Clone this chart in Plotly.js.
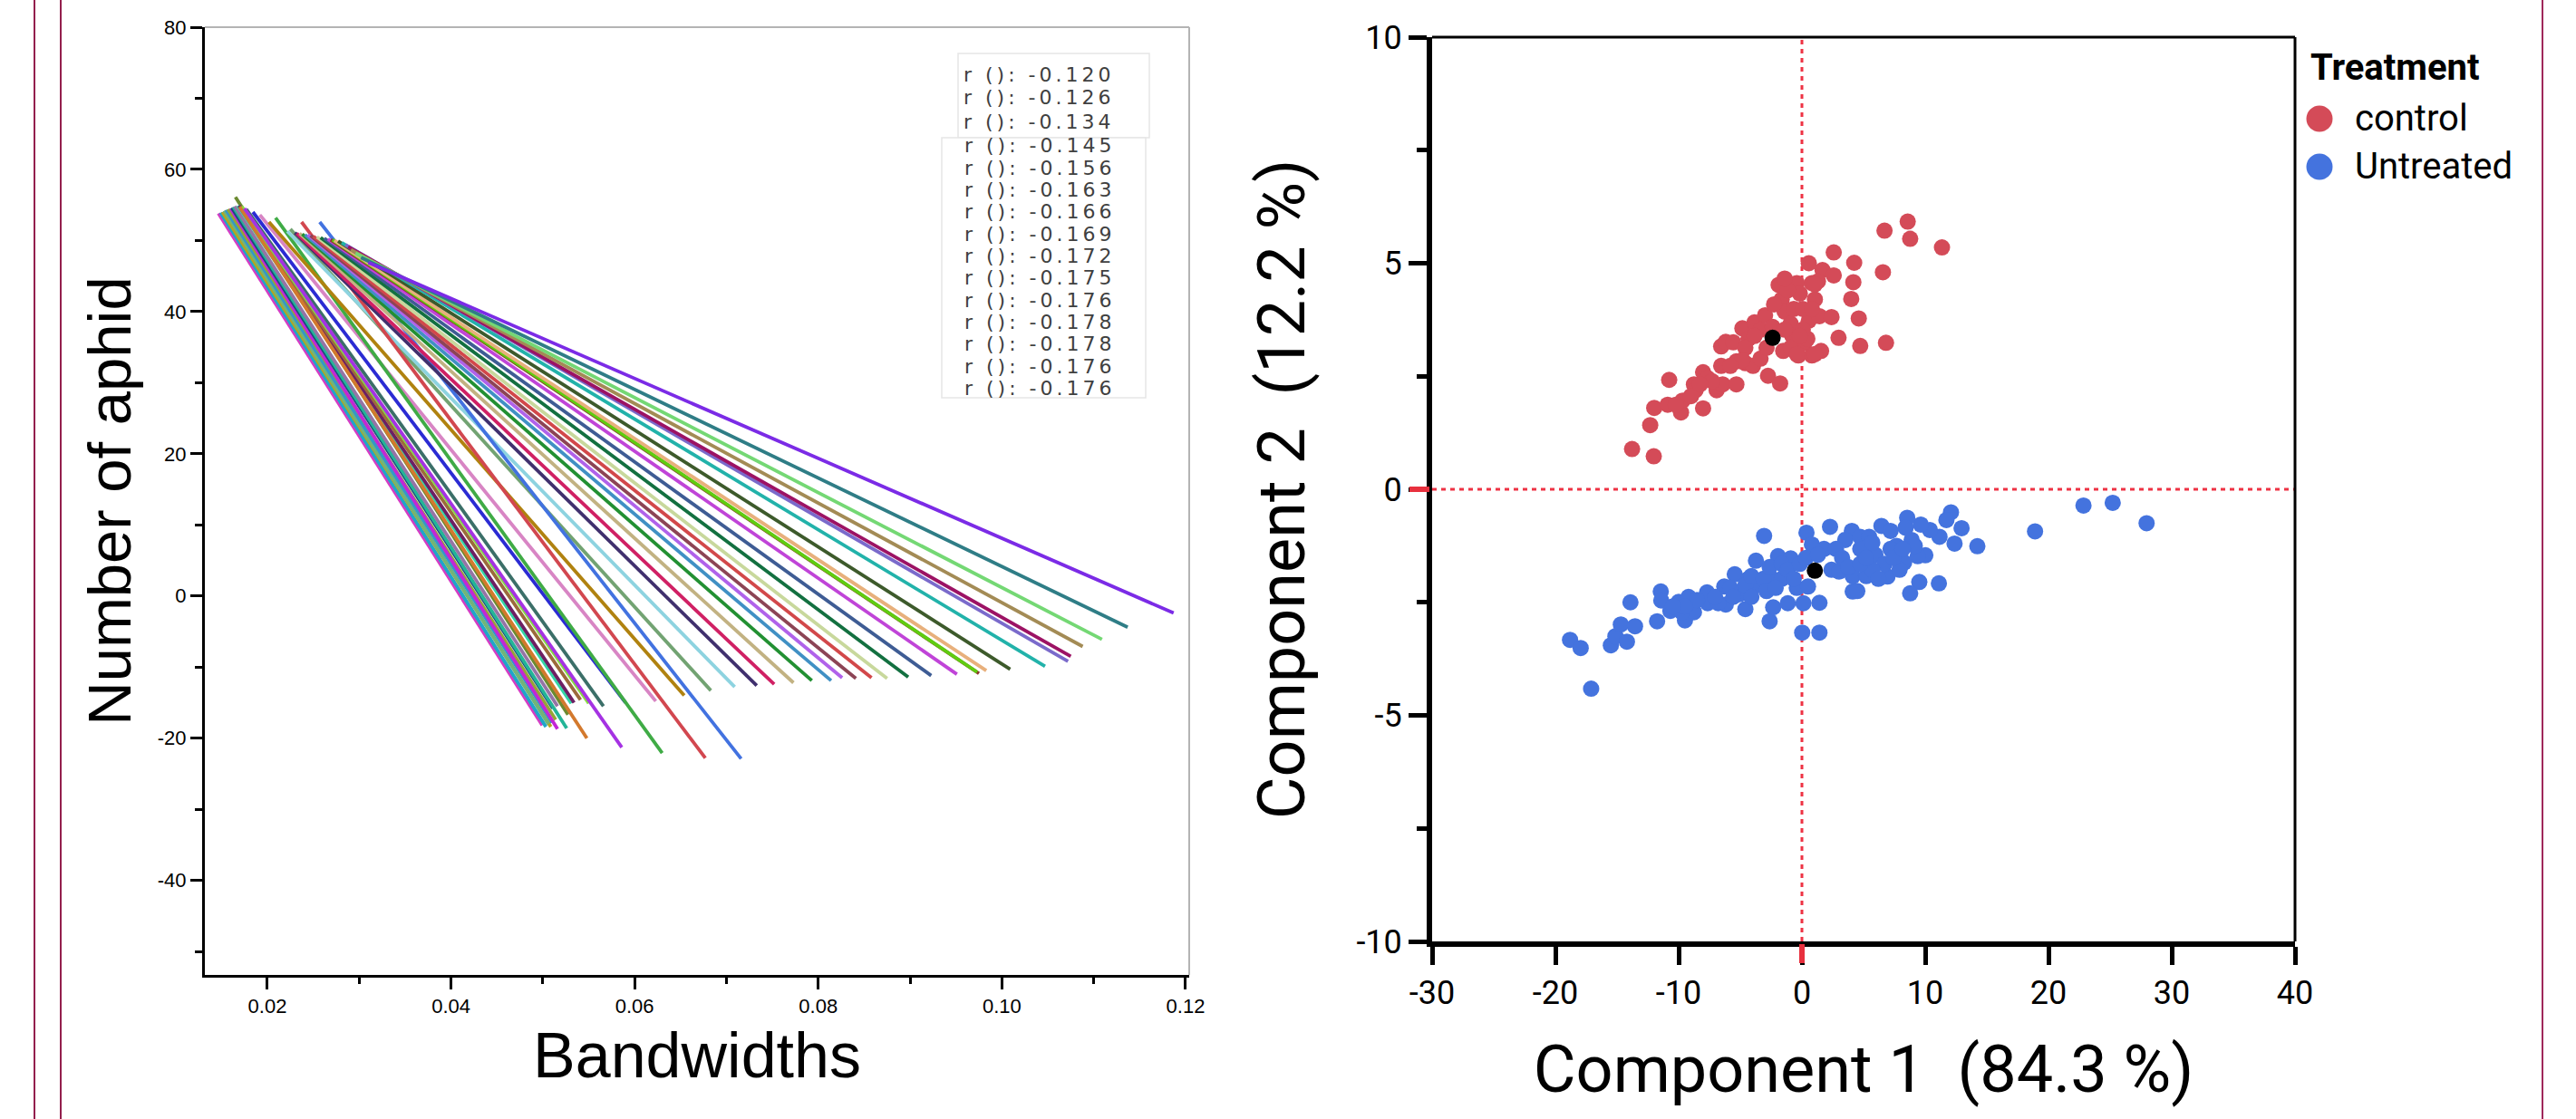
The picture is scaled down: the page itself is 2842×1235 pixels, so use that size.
<!DOCTYPE html>
<html>
<head>
<meta charset="utf-8">
<script src="https://cdn.plot.ly/plotly-3.0.1.min.js"></script>
<style>
html,body{margin:0;padding:0;background:#fff;}
#chart{width:2842px;height:1235px;}
text.annotation-text[style*="DejaVu"]{letter-spacing:4px;}
</style>
</head>
<body>
<div id="chart"></div>
<script>
// ---------- Left panel: fitted lines (start / end points) ----------
const lineStartX = [
  0.01467,0.01490,0.01510,0.01530,0.01550,0.01572,0.01600,0.01612,0.01630,0.01645,
  0.01652,0.01678,0.01690,0.01700,0.01720,0.01700,0.01770,0.01750,0.01842,0.01918,
  0.02089,0.02017,0.02250,0.02217,0.02372,0.02570,
  0.0230,0.0232,0.0235,0.0238,0.0241,0.0244,0.0247,0.0250,0.0254,0.0258,
  0.0262,0.0266,0.0269,0.0271,0.0273,0.0277,0.0281,0.0285,0.0288,0.0291,
  0.0296,0.0302,0.0310
];
const lineStartY = [
  53.8,53.9,54.0,54.2,54.3,54.4,54.5,54.6,54.7,54.8,
  56.1,54.9,54.9,54.8,54.8,54.7,54.4,54.5,54.0,53.6,
  53.2,52.6,51.6,51.3,52.6,52.6,
  51.1,51.0,51.0,50.9,50.8,50.8,50.7,50.6,50.5,50.4,
  50.3,50.2,50.1,50.1,50.0,49.9,49.7,49.4,49.1,48.7,
  48.2,47.6,46.9
];
const lineEndX = [
  0.04994,0.05034,0.05087,0.0506,0.0510,0.0514,0.0516,0.0511,0.0526,0.0516,
  0.05274,0.0531,0.0534,0.0541,0.0550,0.0548,0.0566,0.0586,0.0590,0.0623,
  0.0630,0.0654,0.0683,0.0709,0.0677,0.0716,
  0.0733,0.0752,0.0773,0.0793,0.0814,0.0826,0.0841,0.0858,0.0875,0.0898,
  0.0923,0.0951,0.0975,0.0973,0.0983,0.1009,0.1047,0.1072,0.1075,0.1088,
  0.1109,0.1137,0.1187
];
const lineEndY = [
  -18.2,-18.4,-18.4,-18.0,-17.8,-17.4,-18.7,-15.8,-18.6,-15.5,
  -16.7,-15.1,-15.0,-14.6,-15.1,-20.0,-15.5,-21.3,-15.0,-14.8,
  -22.1,-14.0,-13.3,-12.8,-22.8,-22.9,
  -12.6,-12.4,-12.2,-11.9,-11.9,-11.5,-11.6,-11.5,-11.6,-11.4,
  -11.2,-11.0,-10.9,-10.7,-10.5,-10.3,-9.9,-9.2,-8.5,-7.1,
  -6.1,-4.4,-2.4
];
const lineColors = [
  '#d43cc4','#1fa6c9','#b5a51e','#6fb57a','#3398c8','#96a536','#c326d6','#1f4a7c','#23b597','#9574a6',
  '#6b8a30','#35d6a6','#6e1f63','#9c6a3c','#86dc42','#d3792d','#3b6f68','#a532e3','#2b2bd3','#d885c4',
  '#3fab45','#b0820f','#72a372','#8dd3e0','#d2474f','#4272e0',
  '#40306e','#d02064','#c2b282','#229032','#4090c4','#b062ea','#8c4455','#d2484a','#c8d89c','#137040',
  '#3e5c94','#c044d8','#8b3a2a','#5fcc10','#e8b07c','#3d5a2b','#22b2aa','#7a6acb','#9c1264','#a38b55',
  '#74d874','#2f7d86','#7b2be6'
];
const rValuesA = ['-0.120','-0.126','-0.134'];
const rValuesB = ['-0.145','-0.156','-0.163','-0.166','-0.169','-0.172','-0.175','-0.176','-0.178','-0.178','-0.176','-0.176'];

const leftXTicks = [0.02,0.04,0.06,0.08,0.10,0.12];
const leftXTickText = ['0.02','0.04','0.06','0.08','0.10','0.12'];
const leftYTicks = [-40,-20,0,20,40,60,80];
const leftYTickText = ['-40','-20','0','20','40','60','80'];

// ---------- Right panel: PCA scores ----------
const controlX = [
  -13.78,-12.02,-12.31,-11.98,-10.77,-10.89,-9.81,-9.69,-10.23,-8.02,
  -8.76,-8.63,-8.02,-7.65,-6.92,-6.55,-6.43,-5.32,-6.55,-6.18,
  -5.57,-5.32,-4.83,-4.59,-3.97,-3.36,-4.34,-3.85,-2.99,-2.75,
  -1.77,-1.89,-1.64,-1.40,-0.91,-1.52,-0.42,-0.17,-0.78,-0.29,
  0.20,0.56,0.81,1.05,0.56,0.44,0.81,1.55,1.67,1.30,
  2.58,2.58,1.42,2.40,2.97,4.24,4.17,4.00,4.61,4.73,
  6.70,8.58,8.78,6.57,6.82,11.36,-3.36,-2.38,-1.40,-0.66,
  0.07,0.07,-1.15,-2.26,-3.85,-4.59,-2.87,-0.91,-0.17,1.05,
  0.81,-1.40,-4.83,-5.81,-7.28,-9.00,-8.27,1.05,-0.42
];
const controlY = [
  0.89,0.73,1.42,1.80,2.42,1.87,1.70,1.96,1.87,1.79,
  2.32,2.19,2.59,2.46,2.19,2.73,2.32,2.32,3.16,3.26,
  3.25,2.83,3.56,2.79,2.73,2.89,3.33,3.69,3.85,2.51,
  2.34,4.52,4.20,3.93,3.66,3.06,4.56,4.33,3.39,2.96,
  3.23,5.00,4.56,4.20,3.73,3.33,2.96,3.06,4.85,4.60,
  4.73,5.24,3.83,3.81,3.35,5.01,4.58,4.21,3.78,3.17,
  5.72,5.92,5.54,4.80,3.24,5.35,3.53,3.59,3.53,3.99,
  3.99,3.53,4.40,4.09,3.39,3.13,3.13,3.13,3.39,4.53,
  3.99,4.66,2.86,2.73,2.39,2.06,2.32,2.99,2.99
];
const untreatedX = [
  -18.81,-17.95,-17.10,-15.50,-15.13,-14.20,-14.69,-13.54,-13.91,-11.75,
  -11.45,-11.41,-10.67,-10.00,-9.49,-9.20,-8.76,-9.74,-7.70,-7.65,
  -6.30,-6.18,-6.79,-5.45,-5.08,-4.59,-4.34,-3.73,-3.07,-3.61,
  -2.62,-2.33,-1.94,-2.62,-1.15,-0.91,-1.64,-0.42,0.02,1.42,
  0.12,1.42,0.37,0.81,0.49,2.28,4.05,4.12,4.12,2.40,
  3.02,1.79,3.51,4.73,4.73,-5.81,-4.59,-4.10,-3.12,-2.62,
  -1.64,-1.15,-0.66,-2.87,-4.10,-5.57,-7.04,-8.51,-9.49,-10.47,
  -2.13,-0.17,0.32,1.30,2.77,3.26,3.75,
  22.84,25.21,27.96,18.91,14.23,12.09,11.72,12.95,12.38,11.16,
  10.38,9.64,8.54,10.01,9.39,9.52,11.11,8.78,6.94,8.29,
  6.45,7.19,5.22,4.49,5.45,8.90,7.68,5.96,4.98,6.70,
  7.92,5.71,4.73,8.41,7.19,9.15,5.71,7.43,6.20,8.17,5.22
];
const untreatedY = [
  -3.33,-3.51,-4.41,-3.45,-3.25,-3.37,-2.99,-3.03,-2.50,-2.92,
  -2.26,-2.46,-2.69,-2.49,-2.90,-2.38,-2.72,-2.72,-2.28,-2.52,
  -2.15,-2.55,-2.52,-1.88,-2.32,-2.65,-1.98,-1.58,-1.03,-2.12,
  -2.92,-2.61,-1.48,-1.92,-2.52,-1.53,-1.98,-2.18,-3.17,-3.17,
  -2.52,-2.51,-0.96,-1.22,-2.15,-0.83,-0.92,-2.26,-1.92,-1.78,
  -1.82,-1.32,-1.12,-1.32,-1.05,-2.18,-2.12,-1.92,-1.98,-1.72,
  -1.65,-1.78,-1.98,-2.25,-2.38,-2.38,-2.38,-2.45,-2.59,-2.59,
  -2.18,-1.65,-1.52,-1.45,-1.32,-1.52,-1.72,
  -0.36,-0.30,-0.75,-0.93,-1.26,-0.51,-0.68,-0.86,-1.20,-1.05,
  -0.90,-0.78,-0.63,-1.46,-1.48,-2.05,-2.08,-2.30,-1.93,-1.62,
  -0.81,-0.92,-1.92,-2.25,-1.05,-1.12,-1.25,-1.45,-1.32,-1.65,
  -1.78,-1.78,-1.65,-0.85,-1.32,-1.25,-1.18,-1.52,-1.98,-1.32,-1.52
];
const centroidX = [-2.38, 1.05];
const centroidY = [3.35, -1.80];

const groupNames = ['control', 'Untreated'];
const groupColors = ['#d44b58', '#4473de'];

const rightXTicks = [-30,-20,-10,0,10,20,30,40];
const rightXTickText = ['-30','-20','-10','0','10','20','30','40'];
const rightYTicks = [-10,-5,0,5,10];
const rightYTickText = ['-10','-5','0','5','10'];

// ---------- Build figure ----------
const LS = 'Liberation Sans, Arial, Helvetica, sans-serif';
const RB = 'Roboto, Liberation Sans, Arial, sans-serif';
const W = 2842, H = 1235;
const px = v => v / W;
const py = v => 1 - v / H;

const traces = [];
for (let i = 0; i < lineStartX.length; i++) {
  traces.push({
    type: 'scatter', mode: 'lines',
    x: [lineStartX[i], lineEndX[i]], y: [lineStartY[i], lineEndY[i]],
    line: {color: lineColors[i], width: 3.8},
    xaxis: 'x', yaxis: 'y', showlegend: false, hoverinfo: 'skip'
  });
}
traces.push({
  type: 'scatter', mode: 'markers', name: groupNames[0], showlegend: false,
  x: controlX, y: controlY, xaxis: 'x2', yaxis: 'y2',
  marker: {color: groupColors[0], size: 18, line: {width: 0}}
});
traces.push({
  type: 'scatter', mode: 'markers', name: groupNames[1], showlegend: false,
  x: untreatedX, y: untreatedY, xaxis: 'x2', yaxis: 'y2',
  marker: {color: groupColors[1], size: 18, line: {width: 0}}
});
traces.push({
  type: 'scatter', mode: 'markers', name: 'centroid', showlegend: false,
  x: centroidX, y: centroidY, xaxis: 'x2', yaxis: 'y2',
  marker: {color: '#000000', size: 18, line: {width: 0}}
});

const annotations = [];
rValuesA.forEach((v, i) => {
  annotations.push({
    xref: 'paper', yref: 'paper', x: px(1061), y: py(82 + i * 26),
    xanchor: 'left', yanchor: 'middle', showarrow: false,
    text: 'r (): ' + v, font: {family: 'DejaVu Sans, sans-serif', size: 22, color: '#404040'}
  });
});
rValuesB.forEach((v, i) => {
  annotations.push({
    xref: 'paper', yref: 'paper', x: px(1062), y: py(161 + i * 24.3),
    xanchor: 'left', yanchor: 'middle', showarrow: false,
    text: 'r (): ' + v, font: {family: 'DejaVu Sans, sans-serif', size: 22, color: '#404040'}
  });
});
// custom legend (large symbols)
annotations.push({
  xref: 'paper', yref: 'paper', x: px(2547), y: py(74), xanchor: 'left', yanchor: 'middle',
  showarrow: false, text: '<b>Treatment</b>', font: {family: RB, size: 40, color: '#000'}
});
const legendRowsY = [131, 184];
groupNames.forEach((name, i) => {
  annotations.push({
    xref: 'paper', yref: 'paper', x: px(2596), y: py(legendRowsY[i]), xanchor: 'left', yanchor: 'middle',
    showarrow: false, text: name, font: {family: RB, size: 40, color: '#000'}
  });
});

const shapes = [
  // frame lines of the page
  {type: 'line', xref: 'paper', yref: 'paper', x0: px(38), x1: px(38), y0: 0, y1: 1, line: {color: '#931f4d', width: 2}},
  {type: 'line', xref: 'paper', yref: 'paper', x0: px(67), x1: px(67), y0: 0, y1: 1, line: {color: '#931f4d', width: 2}},
  {type: 'line', xref: 'paper', yref: 'paper', x0: px(2805), x1: px(2805), y0: 0, y1: 1, line: {color: '#a0285a', width: 2}},
  // left panel grey top / right border
  {type: 'line', xref: 'x domain', yref: 'y domain', x0: 0, x1: 1, y0: 1, y1: 1, line: {color: '#b4b4b4', width: 2}},
  {type: 'line', xref: 'x domain', yref: 'y domain', x0: 1, x1: 1, y0: 0, y1: 1, line: {color: '#b4b4b4', width: 2}},
  // r legend boxes
  {type: 'rect', xref: 'paper', yref: 'paper', x0: px(1057), x1: px(1268), y0: py(152), y1: py(59), line: {color: '#e6e6e6', width: 1.5}, fillcolor: 'white', layer: 'below'},
  {type: 'rect', xref: 'paper', yref: 'paper', x0: px(1039), x1: px(1264), y0: py(439), y1: py(152), line: {color: '#e6e6e6', width: 1.5}, fillcolor: 'white', layer: 'below'},
  // right panel top/right border
  {type: 'line', xref: 'x2 domain', yref: 'y2 domain', x0: 0, x1: 1, y0: 1, y1: 1, line: {color: '#000', width: 3}},
  {type: 'line', xref: 'x2 domain', yref: 'y2 domain', x0: 1, x1: 1, y0: 0, y1: 1, line: {color: '#000', width: 3}},
  // dashed zero lines
  {type: 'line', xref: 'x2', yref: 'y2 domain', x0: 0, x1: 0, y0: 0, y1: 1, layer: 'below', line: {color: '#ee3344', width: 3, dash: '5px,5px'}},
  {type: 'line', xref: 'x2 domain', yref: 'y2', x0: 0, x1: 1, y0: 0, y1: 0, layer: 'below', line: {color: '#ee3344', width: 3, dash: '5px,5px'}},
  // red zero ticks
  {type: 'line', xref: 'paper', yref: 'y2', x0: px(1555), x1: px(1577), y0: 0, y1: 0, line: {color: '#e8303e', width: 6}},
  {type: 'line', xref: 'x2', yref: 'paper', x0: 0, x1: 0, y0: py(1042), y1: py(1063), line: {color: '#e8303e', width: 6}}
];
// legend symbols
groupColors.forEach((c, i) => {
  shapes.push({
    type: 'circle', xref: 'paper', yref: 'paper',
    xsizemode: 'pixel', ysizemode: 'pixel', xanchor: px(2559), yanchor: py(legendRowsY[i]),
    x0: -14.5, x1: 14.5, y0: -14.5, y1: 14.5,
    fillcolor: c, line: {width: 0}
  });
});

const layout = {
  width: W, height: H,
  margin: {l: 0, r: 0, t: 0, b: 0, pad: 0},
  paper_bgcolor: '#ffffff', plot_bgcolor: '#ffffff',
  showlegend: false,
  xaxis: {
    domain: [px(226), px(1312)], anchor: 'y', range: [0.01319, 0.1204],
    tickmode: 'array', tickvals: leftXTicks, ticktext: leftXTickText,
    ticks: 'outside', ticklen: 13, tickwidth: 3, tickcolor: '#000',
    minor: {ticks: 'outside', tickmode: 'linear', tick0: 0, dtick: 0.01, ticklen: 7, tickwidth: 3, tickcolor: '#000', showgrid: false},
    showline: true, linecolor: '#000', linewidth: 3, showgrid: false, zeroline: false,
    tickfont: {family: LS, size: 22, color: '#000'},
    title: {text: 'Bandwidths', font: {family: LS, size: 70, color: '#000'}, standoff: 18}
  },
  yaxis: {
    domain: [py(1076), py(30)], anchor: 'x', range: [-53.3, 80],
    tickmode: 'array', tickvals: leftYTicks, ticktext: leftYTickText,
    ticks: 'outside', ticklen: 13, tickwidth: 3, tickcolor: '#000',
    minor: {ticks: 'outside', tickmode: 'linear', tick0: 0, dtick: 10, ticklen: 8, tickwidth: 3, tickcolor: '#000', showgrid: false},
    showline: true, linecolor: '#000', linewidth: 3, showgrid: false, zeroline: false,
    tickfont: {family: LS, size: 22, color: '#000'},
    title: {text: 'Number of aphid', font: {family: LS, size: 67, color: '#000'}, standoff: 8}
  },
  xaxis2: {
    domain: [px(1580), px(2532)], anchor: 'y2', range: [-30, 40],
    tickmode: 'array', tickvals: rightXTicks, ticktext: rightXTickText,
    ticks: 'outside', ticklen: 20, tickwidth: 5, tickcolor: '#000',
    showline: true, linecolor: '#000', linewidth: 6, showgrid: false, zeroline: false,
    tickfont: {family: RB, size: 36, color: '#000'},
    title: {text: 'Component 1  (84.3 %)', font: {family: RB, size: 72, color: '#000'}, standoff: 40}
  },
  yaxis2: {
    domain: [py(1039), py(41)], anchor: 'x2', range: [-10, 10],
    tickmode: 'array', tickvals: rightYTicks, ticktext: rightYTickText,
    ticks: 'outside', ticklen: 20, tickwidth: 5, tickcolor: '#000',
    minor: {ticks: 'outside', tickmode: 'linear', tick0: 0, dtick: 2.5, ticklen: 11, tickwidth: 5, tickcolor: '#000', showgrid: false},
    showline: true, linecolor: '#000', linewidth: 6, showgrid: false, zeroline: false,
    tickfont: {family: RB, size: 36, color: '#000'},
    title: {text: 'Component 2  (12.2 %)', font: {family: RB, size: 72, color: '#000'}, standoff: 35}
  },
  shapes: shapes,
  annotations: annotations
};

Plotly.newPlot('chart', traces, layout, {staticPlot: true, displayModeBar: false});
</script>
</body>
</html>
